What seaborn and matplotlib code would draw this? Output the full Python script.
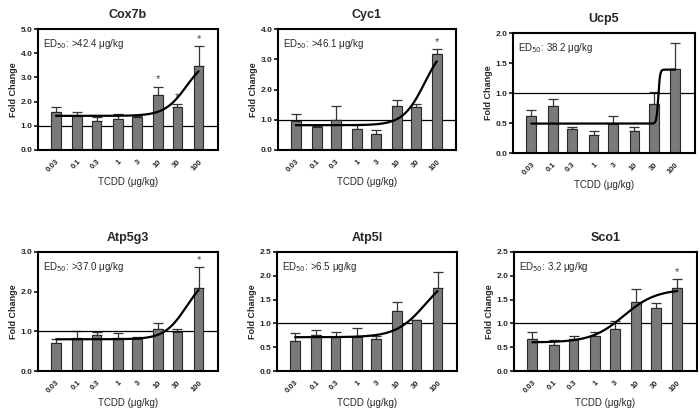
import numpy as np
import pandas as pd
import matplotlib
matplotlib.use("Agg")
import matplotlib.pyplot as plt
import seaborn as sns

sns.set_theme(style="white")
plt.rcParams['font.family'] = ['Liberation Sans', 'DejaVu Sans']

doses = [0.03, 0.1, 0.3, 1, 3, 10, 30, 100]
dose_labels = ["0.03", "0.1", "0.3", "1", "3", "10", "30", "100"]

genes = ["Cox7b", "Cyc1", "Ucp5", "Atp5g3", "Atp5l", "Sco1"]

cox7b_mean = [1.56, 1.41, 1.20, 1.28, 1.35, 2.28, 1.77, 3.48]
cox7b_err = [0.21, 0.14, 0.18, 0.20, 0.07, 0.34, 0.12, 0.80]
cyc1_mean = [0.97, 0.76, 0.99, 0.70, 0.52, 1.46, 1.43, 3.18]
cyc1_err = [0.21, 0.02, 0.45, 0.13, 0.14, 0.20, 0.08, 0.16]
ucp5_mean = [0.62, 0.79, 0.40, 0.30, 0.49, 0.37, 0.82, 1.40]
ucp5_err = [0.10, 0.11, 0.03, 0.06, 0.12, 0.06, 0.20, 0.43]
atp5g3_mean = [0.70, 0.82, 0.91, 0.82, 0.80, 1.07, 0.99, 2.08]
atp5g3_err = [0.10, 0.19, 0.08, 0.13, 0.06, 0.13, 0.07, 0.53]
atp5l_mean = [0.63, 0.75, 0.71, 0.72, 0.68, 1.26, 1.07, 1.75]
atp5l_err = [0.16, 0.12, 0.11, 0.19, 0.05, 0.18, 0.01, 0.32]
sco1_mean = [0.68, 0.54, 0.67, 0.73, 0.88, 1.45, 1.33, 1.75]
sco1_err = [0.13, 0.11, 0.07, 0.08, 0.17, 0.28, 0.10, 0.18]

means = [cox7b_mean, cyc1_mean, ucp5_mean, atp5g3_mean, atp5l_mean, sco1_mean]
errs = [cox7b_err, cyc1_err, ucp5_err, atp5g3_err, atp5l_err, sco1_err]

ed50_labels = [">42.4", ">46.1", "38.2", ">37.0", ">6.5", "3.2"]
stars = [[10, 30, 100], [100], [], [100], [], [100]]

# fitted Hill curve parameters: bottom, top, ED50, slope
curve_bottom = [1.41, 0.82, 0.49, 0.80, 0.71, 0.60]
curve_top = [3.86, 3.63, 1.39, 2.45, 2.10, 1.72]
curve_ed50 = [50, 50, 38.2, 50, 50, 5.0]
curve_slope = [1.6, 1.6, 20, 1.6, 1.2, 1.1]

ymax = [5.0, 4.0, 2.0, 3.0, 2.5, 2.5]
ystep = [1.0, 1.0, 0.5, 1.0, 0.5, 0.5]

W, H = 700, 409
boxes = [(38, 29, 218, 150), (278, 29, 456, 150), (513, 33, 695, 153),
         (38, 252, 218, 371), (277, 252, 457, 371), (514, 252, 697, 371)]

fig = plt.figure(figsize=(7.0, 4.09), dpi=100)

for i, g in enumerate(genes):
    x0, y0, x1, y1 = boxes[i]
    ax = fig.add_axes([x0 / W, 1 - y1 / H, (x1 - x0) / W, (y1 - y0) / H])
    lx = np.log10(doses)
    df = pd.DataFrame({"x": lx, "y": means[i]})
    sns.barplot(data=df, x="x", y="y", native_scale=True, width=0.5,
                color="#7a7a7a", saturation=1, edgecolor="#2a2a2a",
                linewidth=0.8, errorbar=None, ax=ax, zorder=2)
    ax.errorbar(lx, means[i], yerr=[np.zeros(len(doses)), errs[i]], fmt="none",
                ecolor="#333333", elinewidth=0.9, capsize=3.5, capthick=0.9, zorder=1)
    ax.axhline(1.0, color="black", lw=0.9, zorder=1.5)
    # fitted curve
    xc = np.logspace(np.log10(doses[0]), np.log10(doses[-1]), 300)
    yc = curve_bottom[i] + (curve_top[i] - curve_bottom[i]) / (1 + (curve_ed50[i] / xc) ** curve_slope[i])
    sns.lineplot(x=np.log10(xc), y=yc, color="black", lw=1.6, ax=ax, zorder=3)
    for d in stars[i]:
        k = doses.index(d)
        ax.text(np.log10(d), means[i][k] + errs[i][k] + ymax[i] * 0.06, "*",
                ha="center", va="center", fontsize=8, color="#444444", zorder=4)
    ax.set_xlim(-1.97, 2.48)
    ax.set_ylim(0, ymax[i])
    yt = np.arange(0, ymax[i] + 1e-9, ystep[i])
    ax.set_yticks(yt)
    ax.set_yticklabels([f"{v:.1f}" for v in yt], fontsize=6, fontweight="bold")
    ax.set_xticks(lx)
    ax.set_xticklabels(dose_labels, rotation=45, ha="right", rotation_mode="anchor",
                       fontsize=5.5, fontweight="bold")
    ax.tick_params(axis="x", length=0, pad=6)
    ax.tick_params(axis="y", length=3, width=1.3, pad=1, direction="out", left=True)
    for s in ax.spines.values():
        s.set_visible(True)
        s.set_color("black")
        s.set_linewidth(1.5)
    ax.set_xlabel("TCDD (μg/kg)", fontsize=7, labelpad=2)
    ax.set_ylabel("Fold Change", fontsize=6.5, fontweight="bold", labelpad=2)
    ax.set_title(g, fontsize=9, fontweight="bold", pad=8)
    ax.text(0.03, 0.93, "ED$_{50}$: " + ed50_labels[i] + " μg/kg", transform=ax.transAxes,
            ha="left", va="top", fontsize=7)
    ax.grid(False)

fig.savefig("out.png", dpi=100)
